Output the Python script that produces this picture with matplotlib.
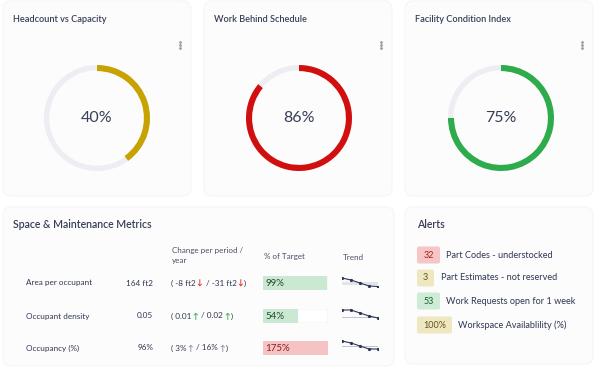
import matplotlib.pyplot as plt
from matplotlib.patches import FancyBboxPatch

W, H = 597, 368
plt.rcParams['font.family'] = ['Lato', 'DejaVu Sans']

DARK = '#373e55'
TEXT = '#2f3650'

# gauges
gauge_titles = ['Headcount vs Capacity', 'Work Behind Schedule', 'Facility Condition Index']
gauge_values = [40, 86, 75]
gauge_colors = ['#c7a200', '#d20f0f', '#2eab4b']

# metrics table
metric_names = ['Area per occupant', 'Occupant density', 'Occupancy (%)']
metric_values = ['164 ft2', '0.05', '96%']
change_period = ['-8 ft2', '0.01', '3%']
change_year = ['-31 ft2', '0.02', '16%']
change_arrows = ['\u2193', '\u2191', '\u2191']
change_colors = ['#e0201b', '#2eab4b', '#8a8f9c']
target_pct = [99, 54, 175]
target_fill = ['#cbe9d2', '#cbe9d2', '#f5c3c3']
target_text = ['#234d2e', '#234d2e', '#8e1d1d']
trend_series = [[9, 7, 4, 1, 0.5], [10, 10, 7, 4, 2], [11, 9, 6, 3, 3]]
trend_refs = [3.5, 3.3, 6]

# alerts
alert_counts = ['32', '3', '53', '100%']
alert_labels = ['Part Codes - understocked', 'Part Estimates - not reserved',
                'Work Requests open for 1 week', 'Workspace Availablility (%)']
alert_fill = ['#f6c6c6', '#efe7bf', '#cdebd5', '#efe7bf']
alert_text = ['#b01f1f', '#5e5320', '#1f5c30', '#5e5320']

fig = plt.figure(figsize=(W / 100, H / 100), dpi=100)
fig.patch.set_facecolor('white')
ax = fig.add_axes([0, 0, 1, 1])
ax.set_xlim(0, W)
ax.set_ylim(H, 0)
ax.axis('off')


def px_axes(x0, y0, w, h):
    a = fig.add_axes([x0 / W, 1 - (y0 + h) / H, w / W, h / H])
    a.set_facecolor('none')
    return a


def card(x0, y0, x1, y1):
    ax.add_patch(FancyBboxPatch((x0, y0), x1 - x0, y1 - y0, boxstyle='round,pad=0,rounding_size=8',
                                fc='#fcfcfd', ec='#f4f4f6', lw=0.7, zorder=0))


# cards
for cx in [3, 204, 405]:
    card(cx, 1, cx + 188, 196)
card(3, 207, 394, 366)
card(405, 207, 593, 364)

# gauges
for i, (title, val, col) in enumerate(zip(gauge_titles, gauge_values, gauge_colors)):
    x0 = 3 + i * 201
    ax.text(x0 + 10, 19, title, fontsize=6.6, color=DARK, va='center', ha='left', fontweight='semibold')
    kx = x0 + 177
    ax.plot([kx] * 3, [42, 45, 48], 'o', ms=1, color='#9a9eab')
    cx = 97 + i * 202
    g = px_axes(cx - 53, 118 - 53, 106, 106)
    g.pie([100], radius=1, colors=['#eceef3'], wedgeprops=dict(width=0.1, linewidth=0))
    g.pie([val, 100 - val], radius=1, startangle=90, counterclock=False,
          colors=[col, 'none'], wedgeprops=dict(width=0.115, linewidth=0))
    g.set_xlim(-1, 1)
    g.set_ylim(-1, 1)
    g.set_aspect('equal')
    g.axis('off')
    g.text(0, 0, f'{val}%', fontsize=11.5, color=DARK, va='center', ha='center')

# metrics table
ax.text(13, 225, 'Space & Maintenance Metrics', fontsize=7.6, color=DARK, va='center', fontweight='semibold')
hs = 5.8
ax.text(172, 250, 'Change per period /', fontsize=hs, color='#4a5066', va='center')
ax.text(172, 261, 'year', fontsize=hs, color='#4a5066', va='center')
ax.text(264, 257, '% of Target', fontsize=hs, color='#4a5066', va='center')
ax.text(343, 257, 'Trend', fontsize=hs, color='#4a5066', va='center')

fig.canvas.draw()
renderer = fig.canvas.get_renderer()


def seq_text(x, y, parts, **kw):
    for s, c, gap, extra in parts:
        t = ax.text(x, y, s, color=c, va='center', ha='left', **kw, **extra)
        bb = t.get_window_extent(renderer)
        x = bb.x1 + gap


rs = 5.9
bold = {'fontweight': 'bold', 'fontsize': 5.5}
row_y = [283, 316, 348]
for i, y in enumerate(row_y):
    ax.text(26, y, metric_names[i], fontsize=rs, color=TEXT, va='center')
    ax.text(153, y, metric_values[i], fontsize=rs, color=TEXT, va='center', ha='right')
    arr, ac = change_arrows[i], change_colors[i]
    seq_text(171, y, [('( ' + change_period[i], TEXT, 1, {'fontsize': rs}), (arr, ac, 3, bold),
                      ('/ ' + change_year[i], TEXT, 1, {'fontsize': rs}), (arr, ac, 1, bold),
                      (')', TEXT, 0, {'fontsize': rs})])
    # % of target bar
    b = px_axes(263, y - 7, 65, 14)
    b.add_patch(FancyBboxPatch((0, 0), 100, 1, boxstyle='round,pad=0,rounding_size=2',
                               fc='white', ec='#eceef0', lw=0.6, mutation_aspect=0.02))
    b.barh([0.5], [min(target_pct[i], 100)], height=1, color=target_fill[i])
    b.set_xlim(0, 100)
    b.set_ylim(0, 1)
    b.axis('off')
    b.text(4, 0.47, f'{target_pct[i]}%', fontsize=7.0, color=target_text[i], va='center')
    # trend sparkline
    s = px_axes(342, y - 8, 36, 12)
    if i == 0:
        s.axhspan(trend_refs[i] - 1.3, trend_refs[i] + 1.3, color='#e3e4e8', lw=0)
    else:
        s.axhline(trend_refs[i], color='#b8bbc4', lw=0.6)
    s.plot(range(len(trend_series[i])), trend_series[i], color='#2c3654', lw=0.8,
           marker='o', ms=1.3)
    s.set_xlim(0, len(trend_series[i]) - 1)
    s.set_ylim(0, 12)
    s.axis('off')

# alerts
ax.text(417, 225, 'Alerts', fontsize=7.6, color=DARK, va='center', fontweight='semibold')
alert_y = [255, 278, 301, 325]
alert_w = [23, 17, 23, 35]
alert_gap = [6, 7, 6, 6]
for i, y in enumerate(alert_y):
    w = alert_w[i]
    ax.add_patch(FancyBboxPatch((417, y - 8.5), w, 17, boxstyle='round,pad=0,rounding_size=2',
                                fc=alert_fill[i], ec='none'))
    ax.text(417 + w / 2, y, alert_counts[i], fontsize=6.5, color=alert_text[i], va='center', ha='center')
    ax.text(417 + w + alert_gap[i], y, alert_labels[i], fontsize=6.6, color=TEXT, va='center')

fig.savefig('out.png', dpi=100, facecolor='white')
